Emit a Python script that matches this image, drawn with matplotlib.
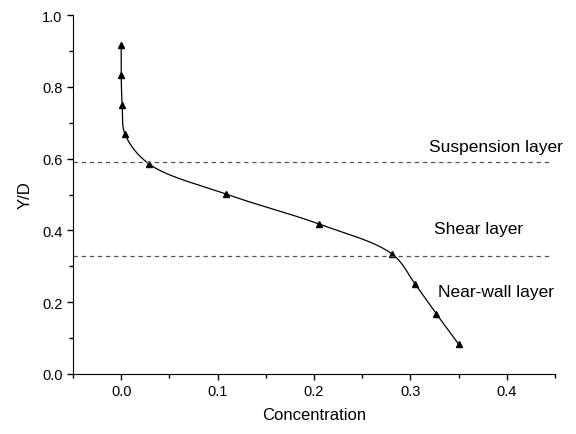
import numpy as np
import matplotlib
matplotlib.use("Agg")
import matplotlib.pyplot as plt
from matplotlib.ticker import MultipleLocator

plt.rcParams['font.family'] = ['Liberation Sans', 'DejaVu Sans']

concentration = [0.0, 0.0, 0.001, 0.004, 0.029, 0.109, 0.205, 0.281, 0.305, 0.327, 0.350]
y_d = [0.917, 0.834, 0.750, 0.668, 0.585, 0.501, 0.418, 0.334, 0.250, 0.167, 0.083]
layer_bounds = [0.59, 0.33]
layer_labels = ["Suspension layer", "Shear layer", "Near-wall layer"]


def catmull_rom(x, y, n=40):
    x = np.asarray(x, float)
    y = np.asarray(y, float)
    P = np.column_stack([x, y])
    P = np.vstack([2 * P[0] - P[1], P, 2 * P[-1] - P[-2]])
    s = np.array([960.0, 359.0])

    def d(a, b):
        return max(np.linalg.norm((b - a) * s) ** 0.5, 1e-6)

    out = []
    for i in range(1, len(P) - 2):
        p0, p1, p2, p3 = P[i - 1], P[i], P[i + 1], P[i + 2]
        t0 = 0
        t1 = t0 + d(p0, p1)
        t2 = t1 + d(p1, p2)
        t3 = t2 + d(p2, p3)
        t = np.linspace(t1, t2, n)[:, None]
        A1 = (t1 - t) / (t1 - t0) * p0 + (t - t0) / (t1 - t0) * p1
        A2 = (t2 - t) / (t2 - t1) * p1 + (t - t1) / (t2 - t1) * p2
        A3 = (t3 - t) / (t3 - t2) * p2 + (t - t2) / (t3 - t2) * p3
        B1 = (t2 - t) / (t2 - t0) * A1 + (t - t0) / (t2 - t0) * A2
        B2 = (t3 - t) / (t3 - t1) * A2 + (t - t1) / (t3 - t1) * A3
        C = (t2 - t) / (t2 - t1) * B1 + (t - t1) / (t2 - t1) * B2
        out.append(C if i == 1 else C[1:])
    C = np.vstack(out)
    return C[:, 0], C[:, 1]


fig = plt.figure(figsize=(5.76, 4.35), dpi=100)
ax = fig.add_axes([0.1267, 0.138, 0.837, 0.825])

cx, cy = catmull_rom(concentration, y_d)
ax.plot(cx, cy, color='black', lw=0.9)
ax.plot(concentration, y_d, linestyle='none', marker='^', color='black', ms=4.5)

for yb in layer_bounds:
    ax.plot([-0.05, 0.444], [yb, yb], color='#555555', lw=0.9, ls=(0, (3.5, 3)))

ax.text(0.389, 0.635, layer_labels[0], fontsize=12.5, ha='center', va='center')
ax.text(0.371, 0.404, layer_labels[1], fontsize=12.5, ha='center', va='center')
ax.text(0.389, 0.231, layer_labels[2], fontsize=12.5, ha='center', va='center')

ax.set_xlim(-0.05, 0.45)
ax.set_ylim(0.0, 1.0)
ax.xaxis.set_minor_locator(MultipleLocator(0.05))
ax.yaxis.set_minor_locator(MultipleLocator(0.1))
ax.set_xticks([0.0, 0.1, 0.2, 0.3, 0.4])
ax.set_xticklabels(["0.0", "0.1", "0.2", "0.3", "0.4"])
ax.set_yticks([0.0, 0.2, 0.4, 0.6, 0.8, 1.0])
ax.set_yticklabels(["0.0", "0.2", "0.4", "0.6", "0.8", "1.0"])
ax.tick_params(which='major', direction='out', length=4.5, width=1, labelsize=10.5, pad=3)
ax.tick_params(which='minor', direction='out', length=3, width=1)
ax.spines['top'].set_visible(False)
ax.spines['right'].set_visible(False)
ax.set_xlabel("Concentration", fontsize=12, labelpad=6)
ax.set_ylabel("Y/D", fontsize=12, labelpad=7)

fig.savefig("out.png", dpi=100)
